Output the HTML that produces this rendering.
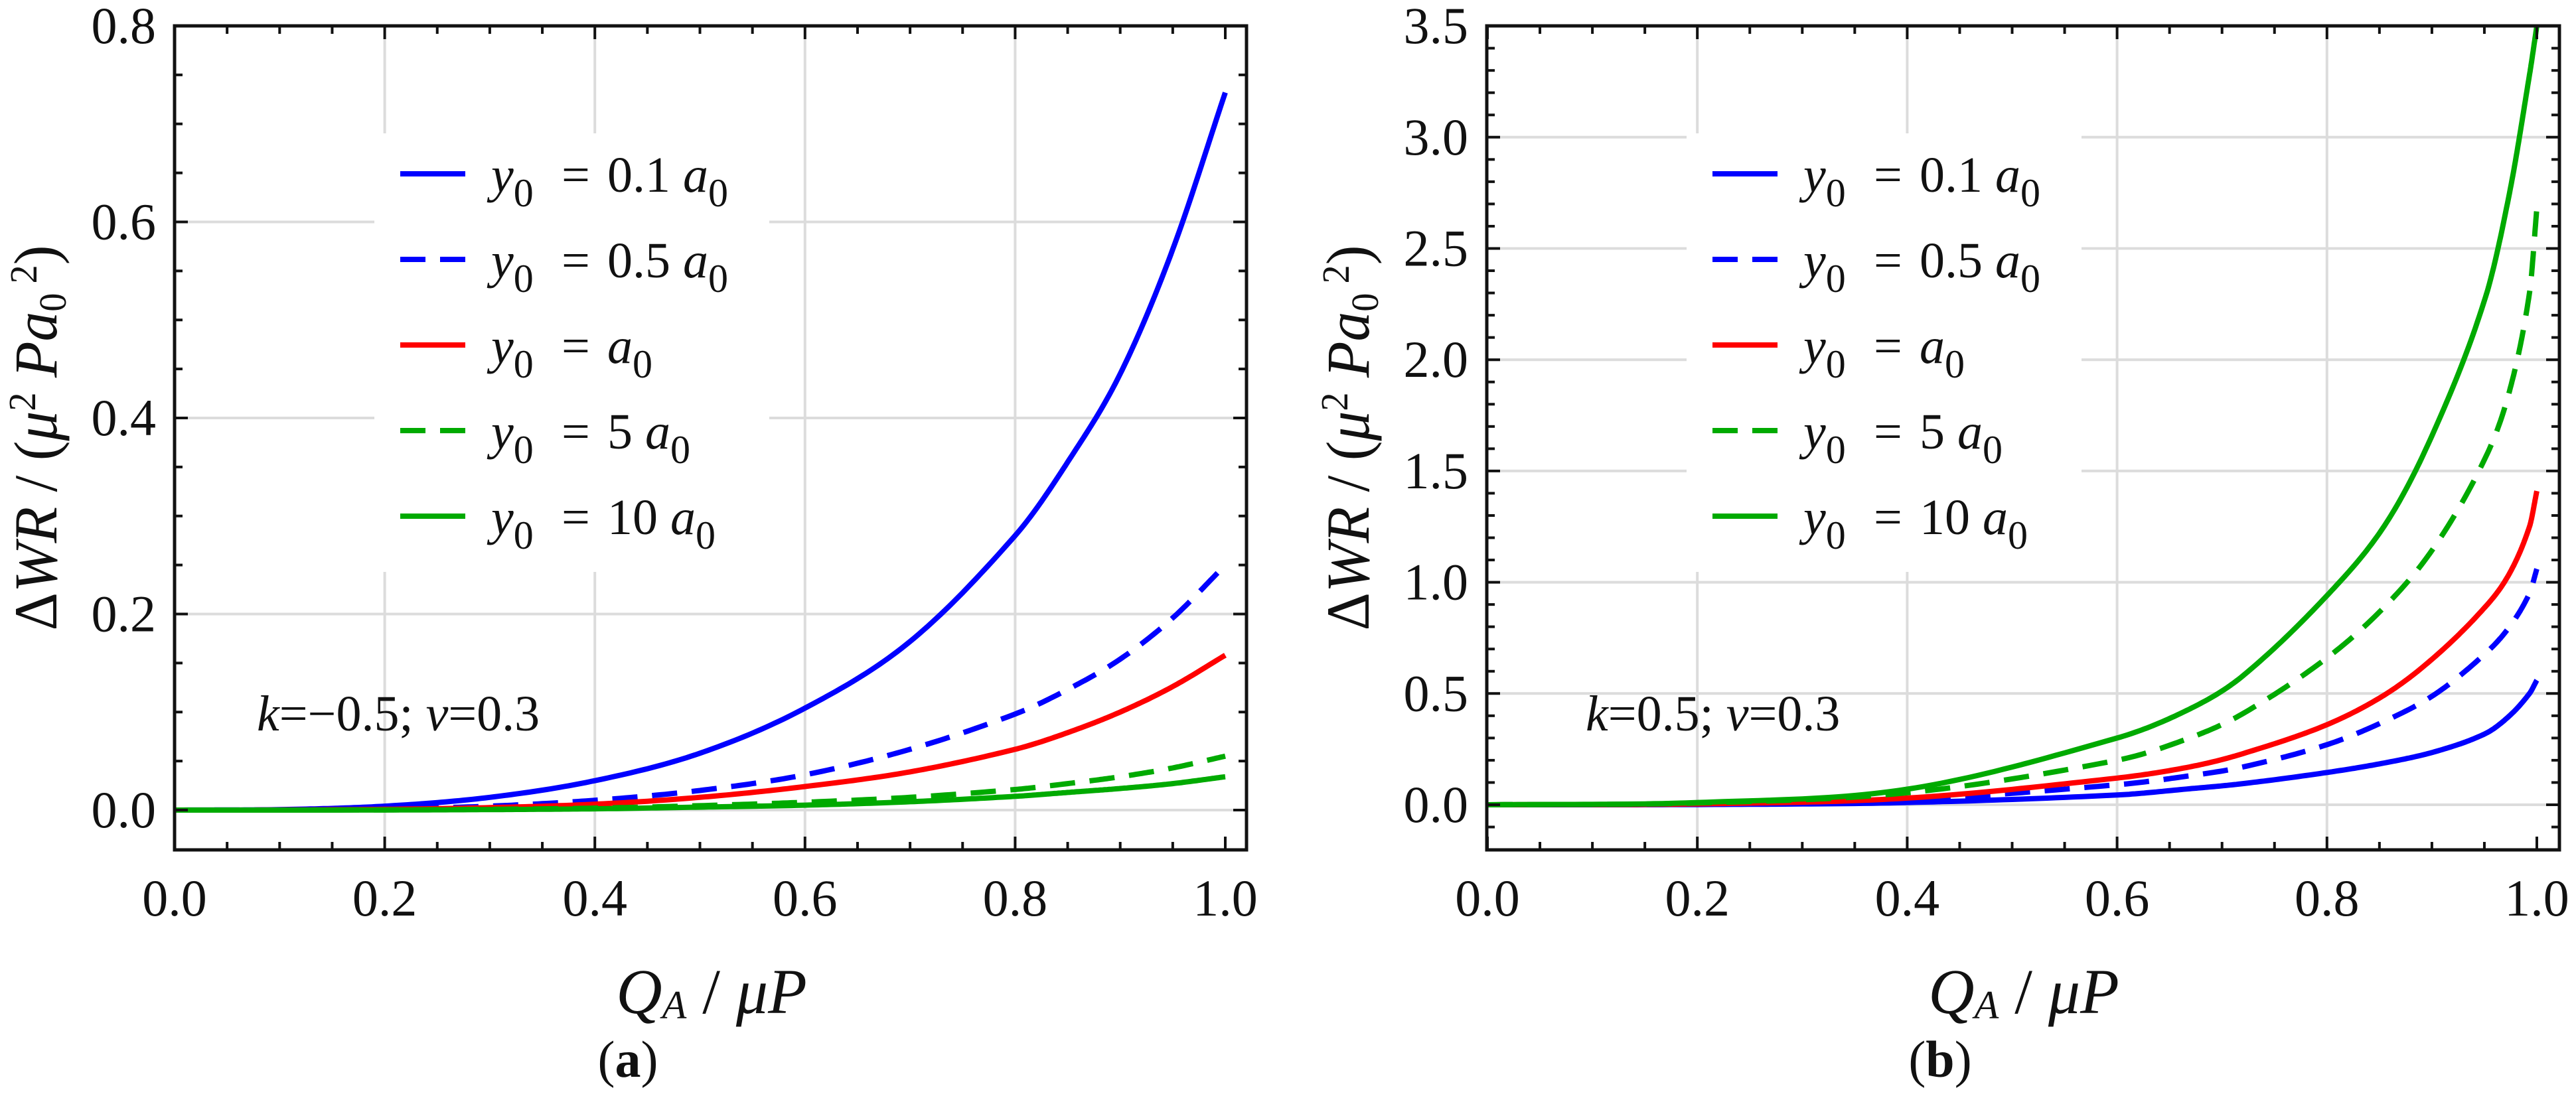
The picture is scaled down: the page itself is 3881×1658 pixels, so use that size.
<!DOCTYPE html>
<html><head><meta charset="utf-8"><style>
html,body{margin:0;padding:0;background:#fff;}
svg{display:block;font-family:"Liberation Serif",serif;}
</style></head><body>
<svg id="fig" width="3881" height="1658" viewBox="0 0 3881 1658" xmlns="http://www.w3.org/2000/svg"></svg>
<script>
// ---- Data ----
const xA = [0, 0.1, 0.2, 0.3, 0.4, 0.5, 0.6, 0.7, 0.8, 0.85, 0.9, 0.95, 1.0];
const a_y01 = [0, 0.0005, 0.004, 0.013, 0.030, 0.058, 0.104, 0.172, 0.280, 0.355, 0.445, 0.572, 0.732];
const a_y05 = [0, 0.0002, 0.0012, 0.004, 0.010, 0.020, 0.036, 0.062, 0.098, 0.123, 0.154, 0.196, 0.250];
const a_y1  = [0, 0.0001, 0.0008, 0.0025, 0.006, 0.013, 0.024, 0.039, 0.062, 0.079, 0.100, 0.126, 0.158];
const a_y5  = [0, 0.0000, 0.0002, 0.0008, 0.002, 0.0045, 0.008, 0.013, 0.021, 0.027, 0.034, 0.043, 0.055];
const a_y10 = [0, 0.0000, 0.0001, 0.0005, 0.0013, 0.003, 0.005, 0.0085, 0.014, 0.018, 0.022, 0.027, 0.034];

const xB = [0, 0.2, 0.4, 0.6, 0.669, 0.72, 0.8, 0.857, 0.904, 0.951, 0.974, 0.993, 1.0];
const b_y01 = [0, 0.001, 0.010, 0.044, 0.072, 0.095, 0.145, 0.19, 0.24, 0.32, 0.40, 0.50, 0.56];
const b_y05 = [0, 0.003, 0.022, 0.09, 0.13, 0.17, 0.27, 0.38, 0.50, 0.68, 0.80, 0.95, 1.06];
const b_y1  = [0, 0.004, 0.030, 0.12, 0.17, 0.23, 0.36, 0.50, 0.67, 0.89, 1.04, 1.25, 1.41];
const b_y5  = [0, 0.008, 0.054, 0.20, 0.30, 0.41, 0.66, 0.90, 1.17, 1.56, 1.86, 2.30, 2.68];
const b_y10 = [0, 0.010, 0.07, 0.30, 0.43, 0.58, 0.94, 1.27, 1.70, 2.28, 2.75, 3.28, 3.50];

const xTicks = [0, 0.2, 0.4, 0.6, 0.8, 1.0];
const xTickLabels = ["0.0", "0.2", "0.4", "0.6", "0.8", "1.0"];
const aYTicks = [0, 0.2, 0.4, 0.6, 0.8];
const aYTickLabels = ["0.0", "0.2", "0.4", "0.6", "0.8"];
const bYTicks = [0, 0.5, 1.0, 1.5, 2.0, 2.5, 3.0, 3.5];
const bYTickLabels = ["0.0", "0.5", "1.0", "1.5", "2.0", "2.5", "3.0", "3.5"];
const legendLabels = ["0.1", "0.5", "", "5", "10"];

const NS = "http://www.w3.org/2000/svg";
const svg = document.getElementById("fig");
function el(tag, attrs, parent) {
  const e = document.createElementNS(NS, tag);
  for (const k in attrs) e.setAttribute(k, attrs[k]);
  (parent || svg).appendChild(e);
  return e;
}
function spline(xs, ys) {
  const n = xs.length, m = new Array(n);
  m[0] = (ys[1]-ys[0])/(xs[1]-xs[0]);
  m[n-1] = (ys[n-1]-ys[n-2])/(xs[n-1]-xs[n-2]);
  for (let i = 1; i < n - 1; i++) m[i] = (ys[i+1]-ys[i-1])/(xs[i+1]-xs[i-1]);
  const pts = [];
  for (let i = 0; i < n - 1; i++) {
    const h = xs[i+1]-xs[i];
    for (let k = 0; k < 24; k++) {
      const t = k/24, t2 = t*t, t3 = t2*t;
      const y = (2*t3-3*t2+1)*ys[i] + (t3-2*t2+t)*h*m[i] + (-2*t3+3*t2)*ys[i+1] + (t3-t2)*h*m[i+1];
      pts.push([xs[i]+t*h, y]);
    }
  }
  pts.push([xs[n-1], ys[n-1]]);
  return pts;
}

function panel(cfg) {
  const g = el("g", {});
  
  
  const X = v => cfg.x0 + v * cfg.xs;
  const Y = v => cfg.y0 - v * cfg.ys;
  const L = cfg.left, R = cfg.right, T = 39, B = 1281;
  const grid = el("g", {stroke: "#dcdcdc", "stroke-width": 4}, g);
  
  
  [0.2, 0.4, 0.6, 0.8].forEach(v => el("line", {x1: X(v), x2: X(v), y1: T, y2: B}, grid));
  cfg.yTicks.forEach(v => { if (Y(v) > T + 5) el("line", {x1: L, x2: R, y1: Y(v), y2: Y(v)}, grid); });
  const lgbg = el("rect", {x: L + 301, y: 201, width: 595, height: 661, fill: "#fff"}, g);
  
  
  const colors = ["#0000ff", "#0000ff", "#ff0000", "#00aa00", "#00aa00"];
  const dashes = [null, "38 22", null, "38 22", null];
  const names = ["series-y0-0.1a0", "series-y0-0.5a0", "series-y0-a0", "series-y0-5a0", "series-y0-10a0"];
  const clip = el("clipPath", {id: cfg.name + "-clip"}, g);
  el("rect", {x: L, y: T, width: R - L, height: B - T}, clip);
  cfg.series.forEach((ys, i) => {
    const pts = spline(cfg.xs_data, ys);
    const d = pts.map((p, j) => (j ? "L" : "M") + X(p[0]).toFixed(1) + " " + Y(p[1]).toFixed(1)).join(" ");
    const a = {d: d, fill: "none", stroke: colors[i], "stroke-width": 8, "clip-path": "url(#" + cfg.name + "-clip)"};
    if (dashes[i]) a["stroke-dasharray"] = dashes[i];
    const p = el("path", a, g);
    
    
  });
  const tk = el("g", {stroke: "#111", "stroke-width": 4}, g);
  
  
  for (let v = 0; v <= 1.0001; v += 0.05) {
    const major = Math.abs(Math.round(v / 0.2) * 0.2 - v) < 1e-6;
    const len = major ? 20 : 12;
    el("line", {x1: X(v), x2: X(v), y1: B, y2: B - len}, tk);
    el("line", {x1: X(v), x2: X(v), y1: T, y2: T + len}, tk);
  }
  for (let v = cfg.yMinorStart; v <= cfg.yMax + 1e-6; v += cfg.yMinor) {
    const yy = Y(v);
    if (yy > B - 2 || yy < T + 2) continue;
    const major = Math.abs(Math.round(v / cfg.yMajor) * cfg.yMajor - v) < 1e-6;
    const len = major ? 20 : 12;
    el("line", {x1: L, x2: L + len, y1: yy, y2: yy}, tk);
    el("line", {x1: R, x2: R - len, y1: yy, y2: yy}, tk);
  }
  const fr = el("rect", {x: L, y: T, width: R - L, height: B - T, fill: "none", stroke: "#111", "stroke-width": 5}, g);
  
  
  xTicks.forEach((v, i) => {
    const t = el("text", {x: X(v), y: 1380, "font-size": 78, "text-anchor": "middle", fill: "#111"}, g);
    t.textContent = xTickLabels[i];
    
    
  });
  cfg.yTicks.forEach((v, i) => {
    const t = el("text", {x: L - 28, y: Y(v) + 26, "font-size": 78, "text-anchor": "end", fill: "#111"}, g);
    t.textContent = cfg.yTickLabels[i];
    
    
  });
  const xt = el("text", {x: L + 809, y: 1527, "font-size": 96, "text-anchor": "middle", fill: "#111"}, g);
  xt.innerHTML = '<tspan font-style="italic">Q</tspan><tspan font-style="italic" font-size="60" dy="8">A</tspan><tspan dy="-8"> / </tspan><tspan font-style="italic">μP</tspan>';
  
  
  const yt = el("text", {x: 0, y: 0, "font-size": 92, "text-anchor": "middle", fill: "#111",
    transform: "translate(" + (L - 178) + ",660) rotate(-90)", textLength: 581, lengthAdjust: "spacingAndGlyphs"}, g);
  yt.innerHTML = 'Δ<tspan font-style="italic">WR</tspan> / (<tspan font-style="italic">μ</tspan><tspan font-size="58" dy="-32">2</tspan><tspan dy="32" font-style="italic"> Pa</tspan><tspan font-size="58" dy="14">0</tspan><tspan font-size="58" dy="-44"> 2</tspan><tspan dy="30">)</tspan>';
  
  
  const lg = el("g", {}, g);
  
  
  legendLabels.forEach((lab, i) => {
    const ly = 262 + i * 129;
    const e = el("g", {}, lg);
    
    
    const a = {x1: L + 340, x2: L + 438, y1: ly, y2: ly, stroke: colors[i], "stroke-width": 8};
    if (dashes[i]) a["stroke-dasharray"] = dashes[i];
    el("line", a, e);
    const t = el("text", {x: L + 477, y: ly + 27, "font-size": 76, fill: "#111"}, e);
    let s = '<tspan font-style="italic">y</tspan><tspan font-size="60" dy="22">0</tspan><tspan dy="-22" x="' + (L + 583) + '">=</tspan>';
    if (lab) s += '<tspan x="' + (L + 652) + '">' + lab + ' </tspan><tspan font-style="italic">a</tspan>';
    else s += '<tspan x="' + (L + 652) + '" font-style="italic">a</tspan>';
    s += '<tspan font-size="60" dy="22">0</tspan>';
    t.innerHTML = s;
  });
  const an = el("text", {x: L + cfg.annX, y: 1101, "font-size": 76, fill: "#111"}, g);
  an.innerHTML = cfg.ann;
  
  
  const cp = el("text", {x: L + 683, y: 1623, "font-size": 78, "text-anchor": "middle", fill: "#111"}, g);
  cp.innerHTML = '(<tspan font-weight="bold">' + cfg.cap + '</tspan>)';
  
  
}

panel({name: "panel-a", left: 263, right: 1878, x0: 263, xs: 1583, y0: 1221, ys: 1477.5,
  xs_data: xA, series: [a_y01, a_y05, a_y1, a_y5, a_y10],
  yTicks: aYTicks, yTickLabels: aYTickLabels, yMajor: 0.2, yMinor: 0.05, yMinorStart: 0, yMax: 0.8,
  annX: 124, ann: '<tspan font-style="italic">k</tspan>=−0.5; <tspan font-style="italic">ν</tspan>=0.3', cap: "a"});
panel({name: "panel-b", left: 2240, right: 3856, x0: 2241, xs: 1581, y0: 1213, ys: 335.4,
  xs_data: xB, series: [b_y01, b_y05, b_y1, b_y5, b_y10],
  yTicks: bYTicks, yTickLabels: bYTickLabels, yMajor: 0.5, yMinor: 0.1, yMinorStart: -0.1, yMax: 3.5,
  annX: 149, ann: '<tspan font-style="italic">k</tspan>=0.5; <tspan font-style="italic">ν</tspan>=0.3', cap: "b"});
</script>
</body></html>
